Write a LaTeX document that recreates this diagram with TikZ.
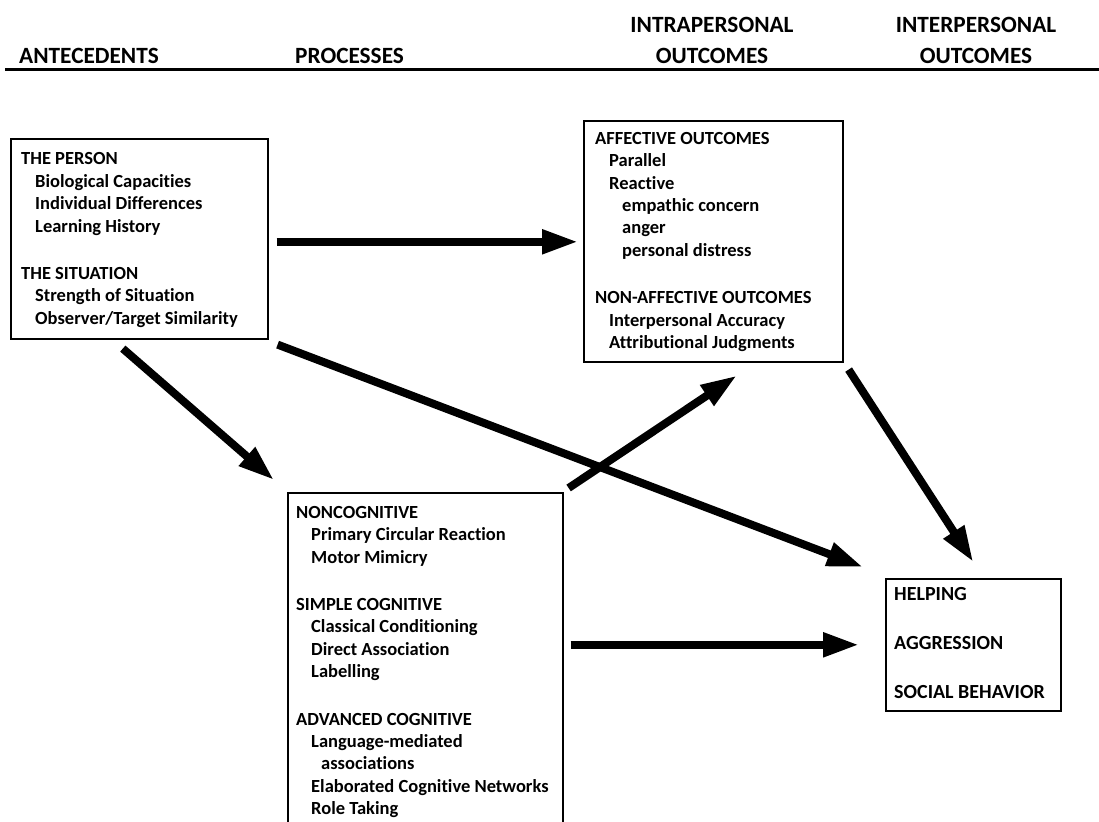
\documentclass[tikz,border=0pt]{standalone}
\usepackage{fontspec}
\setmainfont{Carlito}[Ligatures=NoCommon]
\usetikzlibrary{arrows.meta,calc}
\begin{document}
\begin{tikzpicture}[x=1pt,y=-1pt,
  box/.style={draw, line width=1.6pt, inner sep=0pt, anchor=north west},
  txt/.style={anchor=north west, inner sep=0pt, align=left,
    font=\fontsize{18.5}{22.4}\selectfont\bfseries},
  hd/.style={inner sep=0pt, font=\fontsize{23.3}{28}\selectfont\bfseries},
  flow/.style={line width=8pt, -{Triangle[length=36pt,width=23pt]}}]
\useasboundingbox (0,0) rectangle (1099,821);
\clip (0,0) rectangle (1099,821);

% column headings
\node[hd, anchor=base west] (hant) at (19,64) {ANTECEDENTS};
\node[hd, anchor=base west] (hproc) at (295,64) {PROCESSES};
\node[hd, anchor=base] (hintraA) at (712,33) {INTRAPERSONAL};
\node[hd, anchor=base] (hintraB) at (712,64) {OUTCOMES};
\node[hd, anchor=base] (hinterA) at (976,33) {INTERPERSONAL};
\node[hd, anchor=base] (hinterB) at (976,64) {OUTCOMES};
\draw[line width=2.5pt] (5,69.5) -- (1099,69.5);

% boxes
\node[box, minimum width=257pt, minimum height=200pt] (ante) at (10,138) {};
\node[box, minimum width=259pt, minimum height=241pt] (aff) at (583,120) {};
\node[box, minimum width=275pt, minimum height=400pt] (proc) at (287,492) {};
\node[box, minimum width=175pt, minimum height=132pt] (beh) at (885,578) {};

% box contents
\node[txt] (antetxt) at (21,152.5) {THE PERSON\\
  \hspace*{14pt}Biological Capacities\\
  \hspace*{14pt}Individual Differences\\
  \hspace*{14pt}Learning History\\[25pt]
  THE SITUATION\\
  \hspace*{14pt}Strength of Situation\\
  \hspace*{14pt}Observer/Target Similarity};

\node[txt] (afftxt) at (595,132) {AFFECTIVE OUTCOMES\\
  \hspace*{14pt}Parallel\\
  \hspace*{14pt}Reactive\\
  \hspace*{27pt}empathic concern\\
  \hspace*{27pt}anger\\
  \hspace*{27pt}personal distress\\[25pt]
  NON-AFFECTIVE OUTCOMES\\
  \hspace*{14pt}Interpersonal Accuracy\\
  \hspace*{14pt}Attributional Judgments};

\node[txt] (proctxt) at (296,506) {NONCOGNITIVE\\
  \hspace*{15pt}Primary Circular Reaction\\
  \hspace*{15pt}Motor Mimicry\\[25pt]
  SIMPLE COGNITIVE\\
  \hspace*{15pt}Classical Conditioning\\
  \hspace*{15pt}Direct Association\\
  \hspace*{15pt}Labelling\\[25pt]
  ADVANCED COGNITIVE\\
  \hspace*{15pt}Language-mediated\\
  \hspace*{25pt}associations\\
  \hspace*{15pt}Elaborated Cognitive Networks\\
  \hspace*{15pt}Role Taking};

\node[txt, font=\fontsize{20}{49}\selectfont\bfseries] (behtxt) at (894,587)
  {HELPING\\AGGRESSION\\SOCIAL BEHAVIOR};

% connectors
\coordinate (s1) at ([shift={(8,3)}]ante.east);
\draw[flow] (s1) -- ([xshift=-5pt]s1 -| aff.west);
\draw[flow] ([shift={(-16.5,9)}]ante.south) -- ([shift={(-13,-12)}]proc.north west);
\draw[flow] ([shift={(9,5)}]ante.south east) -- ([shift={(-22,-11)}]beh.north west);
\draw[flow] ([shift={(5,-4)}]proc.north east) -- ([shift={(23.5,13)}]aff.south);
\draw[flow] ([shift={(5,7)}]aff.south east) -- ([shift={(0,-16)}]beh.north);
\coordinate (s6) at (proc.east |- beh.west);
\draw[flow] ([xshift=7pt]s6) -- ([xshift=-26pt]beh.west);
\end{tikzpicture}
\end{document}
